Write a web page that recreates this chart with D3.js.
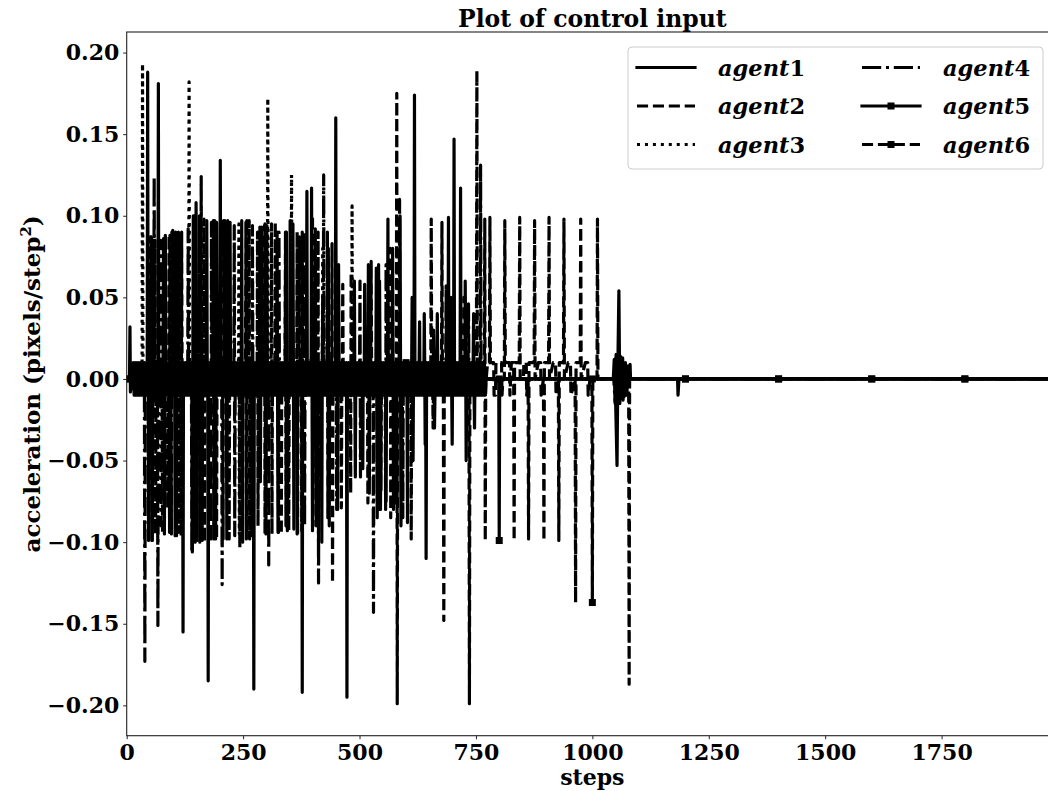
<!DOCTYPE html>
<html><head><meta charset="utf-8">
<script src="https://cdn.jsdelivr.net/npm/d3@7"></script>
<style>
body{margin:0;background:#fff}
svg{display:block}
text{font-family:"DejaVu Serif";font-weight:bold;fill:#000}
</style>
</head><body>
<svg id="chart" width="1048" height="791"></svg>
<script>
// ---------------- data ----------------
const agentNames = ["agent1","agent2","agent3","agent4","agent5","agent6"];
const xTickValues = [0,250,500,750,1000,1250,1500,1750];
const yTickValues = [-0.20,-0.15,-0.10,-0.05,0.00,0.05,0.10,0.15,0.20];
const markerEvery = 200;

// agent1: bang-bang chatter (+-0.01) in the early phase
const agent1Chatter = [
[14,.01],[16,-.01],[18,.01],[20,-.01],[22,.01],[24,-.01],[26,.01],[28,-.01],[30,.01],[32,-.01],
[34,.01],[36,-.01],[38,.01],[40,-.01],[42,.01],[44,-.01],[46,.01],[48,-.01],[50,.01],[52,-.01],
[54,.01],[56,-.01],[58,.01],[60,-.01],[62,.01],[64,-.01],[66,.01],[68,-.01],[70,.01],[72,-.01],
[74,.01],[76,-.01],[78,.01],[80,-.01],[82,.01],[84,-.01],[86,.01],[88,-.01],[90,.01],[92,-.01],
[94,.01],[96,-.01],[98,.01],[100,-.01],[102,.01],[104,-.01],[106,.01],[108,-.01],[110,.01],[112,-.01],
[114,.01],[116,-.01],[118,.01],[120,-.01],[122,.01],[124,-.01],[126,.01],[128,-.01],[130,.01],[132,-.01],
[134,.01],[136,-.01],[138,.01],[140,-.01],[142,.01],[144,-.01],[146,.01],[148,-.01],[150,.01],[152,-.01],
[154,.01],[156,-.01],[158,.01],[160,-.01],[162,.01],[164,-.01],[166,.01],[168,-.01],[170,.01],[172,-.01],
[174,.01],[176,-.01],[178,.01],[180,-.01],[182,.01],[184,-.01],[186,.01],[188,-.01],[190,.01],[192,-.01],
[194,.01],[196,-.01],[198,.01],[200,-.01],[202,.01],[204,-.01],[206,.01],[208,-.01],[210,.01],[212,-.01],
[214,.01],[216,-.01],[218,.01],[220,-.01],[222,.01],[224,-.01],[226,.01],[228,-.01],[230,.01],[232,-.01],
[234,.01],[236,-.01],[238,.01],[240,-.01],[242,.01],[244,-.01],[246,.01],[248,-.01],[250,.01],[252,-.01],
[254,.01],[256,-.01],[258,.01],[260,-.01],[262,.01],[264,-.01],[266,.01],[268,-.01],[270,.01],[272,-.01],
[274,.01],[276,-.01],[278,.01],[280,-.01],[282,.01],[284,-.01],[286,.01],[288,-.01],[290,.01],[292,-.01],
[294,.01],[296,-.01],[298,.01],[300,-.01],[302,.01],[304,-.01],[306,.01],[308,-.01],[310,.01],[312,-.01],
[314,.01],[316,-.01],[318,.01],[320,-.01],[322,.01],[324,-.01],[326,.01],[328,-.01],[330,.01],[332,-.01],
[334,.01],[336,-.01],[338,.01],[340,-.01],[342,.01],[344,-.01],[346,.01],[348,-.01],[350,.01],[352,-.01],
[354,.01],[356,-.01],[358,.01],[360,-.01],[362,.01],[364,-.01],[366,.01],[368,-.01],[370,.01],[372,-.01],
[374,.01],[376,-.01],[378,.01],[380,-.01],[382,.01],[384,-.01],[386,.01],[388,-.01],[390,.01],[392,-.01],
[394,.01],[396,-.01]];
const agent1Points = [[0,0],[6,0],[7,0.032],[8,-0.008],[10,0.004],[12,-0.006],
[45,0.188],[47,-0.099],[53,0.087],[55,-0.099],[57,0.085],[79,0.086],[81,-0.095],[83,0.088],
[105,0.09],[107,-0.096],[109,0.089],[121,-0.155],[141,-0.106],[143,0.1],[149,0.108],[151,-0.099],
[175,-0.185],[189,0.097],[191,-0.098],[193,0.096],[201,0.134],[213,0.096],[215,-0.098],[217,0.097],
[247,0.097],[249,-0.1],[273,-0.19],[297,0.095],[299,-0.095],[301,0.094],[323,0.09],[325,-0.094],
[343,0.09],[345,-0.093],[357,0.095],[359,-0.092],[377,-0.192],[387,0.115],
[398,0],[448,0],[449,0.16],[450,0],[472,0],[473,-0.195],[474,0],[535,0],[536,0.068],[537,0],[538,-0.085],[539,0],
[576,0],[577,-0.076],[578,0],[617,0],[618,0.174],[619,0],[642,0],[643,-0.11],[644,0],[690,0],[691,0.099],[692,0],
[702,0],[703,0.147],[704,0],[1048,0],[1050,-0.014],[1053,-0.053],[1055,0.012],[1057,0.054],[1059,-0.015],[1061,0.013],
[1064,0],[1183,0],[1184,-0.01],[1186,0],[2000,0]];

const agent2Points = [[0,0],[50,0],[51,0.087],[52,0],[53,0],[54,-0.099],[55,0],[87,0],[88,-0.079],[89,0],
[90,0],[91,0.088],[92,-0.094],[93,0.088],[94,0],[113,0],[114,0.089],[115,0],[116,0],[117,-0.096],[118,0.09],[119,0],
[155,0],[156,0.1],[157,-0.1],[158,0],[159,0],[160,0.124],[161,0],[192,0],[193,-0.098],[194,0],[210,0],[211,0.097],[212,0],
[218,0],[219,0.096],[220,-0.098],[221,0],[262,0],[263,0.097],[264,-0.098],[265,0],[280,0],[281,0.09],[282,-0.09],[283,0],
[310,0],[311,0.095],[312,-0.095],[313,0],[340,0],[341,0.061],[342,0],[347,0],[348,-0.093],[349,0],
[365,0],[366,0.09],[367,-0.095],[368,0],[398,0],[399,0.1],[400,-0.09],[401,0],[430,0],[431,0.09],[432,-0.085],[433,0],
[460,0],[461,-0.079],[462,0],[463,0],[464,0.058],[465,0],[545,0],[546,-0.068],[547,0],[565,0],[566,0.08],[567,-0.085],[568,0],
[579,0],[580,0.175],[581,-0.199],[582,0],[653,0],[654,0.098],[655,0],[657,0],[658,-0.03],[659,0],
[680,0],[681,-0.148],[682,0],[751,0],[752,0.189],[753,0],[772,0],[775,0.01],[779,0.01],[780,0.099],[781,0.01],[788,0.01],
[789,-0.01],[792,-0.01],[793,0.01],[805,0.01],[806,-0.01],[808,0],[811,0],[812,0.097],[813,0.01],[822,0.01],[823,-0.01],
[826,0.01],[831,0.01],[832,-0.099],[833,0.01],[843,0.01],[844,0.099],[845,0],[852,0],[853,0.01],[858,0.01],[859,-0.01],
[862,0],[863,-0.098],[864,0.01],[875,0.01],[876,0.097],[877,0],[884,0.01],[889,0.01],[890,-0.01],[895,0],[896,-0.099],
[897,0.01],[906,0.01],[907,0.099],[908,0],[916,0.01],[921,0.01],[922,-0.01],[927,0],[928,-0.099],[929,0.01],[938,0.01],
[939,0.098],[940,0],[948,0.01],[953,0.01],[954,-0.01],[963,0],[964,-0.137],[965,0.01],[974,0.01],[975,0.098],[976,0],
[985,0.01],[990,0.01],[991,-0.01],[995,0],[1010,0],[1011,0.098],[1012,0],[1040,0],[1078,0],[1079,-0.187],[1080,0],[2000,0]];

const agent3Points = [[0,0],[33,0],[34,0.193],[35,0],[133,0],[134,0.182],[135,0],[240,0],[241,0.095],[242,-0.095],[243,0],
[302,0],[303,0.172],[304,0],[353,0],[354,0.125],[355,0],[420,0],[421,0.08],[422,0],[483,0],[484,0.106],[485,0],[2000,0]];

const agent4Points = [[0,0],[38,0],[39,-0.173],[40,0],[58,0],[59,0.124],[60,0],[66,0],[67,-0.151],[68,0],
[72,0],[73,0.085],[74,-0.09],[75,0],[95,0],[96,-0.095],[97,0.09],[98,0],[131,0],[132,0.092],[133,0],[139,0],[140,-0.106],[141,0],
[145,0],[146,0.1],[147,-0.1],[148,0],[180,0],[181,-0.098],[182,0.096],[183,0],[204,0],[205,-0.126],[206,0],
[230,0],[231,0.094],[232,-0.096],[233,0],[257,0],[258,0.097],[259,0],[268,0],[269,-0.096],[270,0.094],[271,0],
[304,0],[305,-0.114],[306,0],[325,0],[326,-0.094],[327,0.09],[328,0],[370,0],[371,0.087],[372,0],[380,0],[381,0.09],[382,-0.09],[383,0],
[411,0],[412,-0.125],[413,0],[422,0],[423,0.125],[424,0],[450,0],[451,-0.08],[452,0.07],[453,0],[500,0],[501,0.06],[502,-0.06],[503,0],
[529,0],[530,-0.143],[531,0],[555,0],[556,-0.08],[557,0.07],[558,0],[585,0],[586,0.11],[587,0],[592,0],[593,-0.085],[594,0],
[685,0],[686,0.057],[687,0],[733,0],[734,0.046],[735,0],[759,0],[760,0.131],[761,0],[1046,0],[1049,-0.015],[1052,0.014],
[1055,-0.013],[1058,-0.015],[1063,0.012],[1066,-0.013],[1070,-0.012],[1075,0],[1080,0],[1081,0.009],[1082,0],[2000,0]];

// agent5: chatter in the middle phase
const agent5Chatter = [
[396,.01],[398,-.01],[400,.01],[402,-.01],[404,.01],[406,-.01],[408,.01],[410,-.01],[412,.01],[414,-.01],
[416,.01],[418,-.01],[420,.01],[422,-.01],[424,.01],[426,-.01],[428,.01],[430,-.01],[432,.01],[434,-.01],
[436,.01],[438,-.01],[440,.01],[442,-.01],[444,.01],[446,-.01],[448,.01],[450,-.01],[452,.01],[454,-.01],
[456,.01],[458,-.01],[460,.01],[462,-.01],[464,.01],[466,-.01],[468,.01],[470,-.01],[472,.01],[474,-.01],
[476,.01],[478,-.01],[480,.01],[482,-.01],[484,.01],[486,-.01],[488,.01],[490,-.01],[492,.01],[494,-.01],
[496,.01],[498,-.01],[500,.01],[502,-.01],[504,.01],[506,-.01],[508,.01],[510,-.01],[512,.01],[514,-.01],
[516,.01],[518,-.01],[520,.01],[522,-.01],[524,.01],[526,-.01],[528,.01],[530,-.01],[532,.01],[534,-.01],
[536,.01],[538,-.01],[540,.01],[542,-.01],[544,.01],[546,-.01],[548,.01],[550,-.01],[552,.01],[554,-.01],
[556,.01],[558,-.01],[560,.01],[562,-.01],[564,.01],[566,-.01],[568,.01],[570,-.01],[572,.01],[574,-.01],
[576,.01],[578,-.01],[580,.01],[582,-.01],[584,.01],[586,-.01],[588,.01],[590,-.01],[592,.01],[594,-.01],
[596,.01],[598,-.01],[600,.01],[602,-.01],[604,.01],[606,-.01],[608,.01],[610,-.01],[612,.01],[614,-.01],
[616,.01],[618,-.01],[620,.01],[622,-.01],[624,.01],[626,-.01],[628,.01],[630,-.01],[632,.01],[634,-.01],
[636,.01],[638,-.01],[640,.01],[642,-.01],[644,.01],[646,-.01],[648,.01],[650,-.01],[652,.01],[654,-.01],
[656,.01],[658,-.01],[660,.01],[662,-.01],[664,.01],[666,-.01],[668,.01],[670,-.01],[672,.01],[674,-.01],
[676,.01],[678,-.01],[680,.01],[682,-.01],[684,.01],[686,-.01],[688,.01],[690,-.01],[692,.01],[694,-.01],
[696,.01],[698,-.01],[700,.01],[702,-.01],[704,.01],[706,-.01],[708,.01],[710,-.01],[712,.01],[714,-.01],
[716,.01],[718,-.01],[720,.01],[722,-.01],[724,.01],[726,-.01],[728,.01],[730,-.01],[732,.01],[734,-.01],
[736,.01],[738,-.01],[740,.01],[742,-.01],[744,.01],[746,-.01],[748,.01],[750,-.01],[752,.01],[754,-.01],
[756,.01],[758,-.01],[760,.01],[762,-.01],[764,.01],[766,-.01],[768,.01],[770,-.01]];
const agent5Points = [[0,0],[67,0],[68,0.181],[69,0],[98,0],[99,0.091],[103,0],[104,-0.096],[105,0],[161,0],[162,-0.099],[163,0],
[171,0],[172,0.097],[173,0],[200,0],[221,0],[222,0.096],[223,0],[285,0],[286,0.093],[287,-0.063],[288,0],[289,0],[290,0.093],
[291,0],[350,0],[351,0.097],[352,0],[365,0],[366,-0.095],[367,0],[390,0],
[397,0.117],[399,-0.093],[405,0.092],[407,-0.09],[419,-0.1],[421,0.05],[433,0.08],[435,-0.09],[453,-0.08],[455,0.07],
[489,0.06],[491,-0.06],[507,-0.055],[511,0.058],[519,0.07],[521,-0.07],[543,0.06],[545,-0.08],[557,-0.075],[561,0.098],
[571,0.08],[573,-0.08],[587,0.1],[589,-0.09],[603,-0.088],[613,0.05],[615,-0.05],[629,0.035],[639,0.04],[641,-0.04],
[659,0.03],[661,-0.03],[667,0.04],[697,0.05],[699,-0.04],[717,0.117],[727,0.06],[729,-0.05],[745,0.04],[747,-0.03],
[772,0],[799,0],[800,-0.099],[801,0],[1000,0],
[1045,0],[1047,0.012],[1049,-0.014],[1051,0.015],[1053,-0.013],[1055,0.014],[1057,-0.015],[1060,0.014],[1062,-0.012],
[1065,0.013],[1068,-0.011],[1071,0.01],[1074,-0.01],[1077,0.008],[1080,0],[1200,0],[1400,0],[1600,0],[1800,0],[2000,0]];

const agent6Points = [[0,0],[60,0],[61,0.085],[62,-0.095],[63,0],[76,0],[77,-0.095],[78,0],[81,0],[82,0.086],[83,0],
[110,0],[111,0.09],[112,-0.094],[113,0],[165,0],[166,0.098],[167,-0.1],[168,0],[185,0],[186,0.097],[187,-0.098],[188,0],[200,0],
[206,0],[207,-0.098],[208,0.097],[209,0],[242,0],[243,-0.104],[244,0],[255,0],[256,0.096],[257,-0.098],[258,0],
[295,0],[296,0.094],[297,-0.095],[298,0],[318,0],[319,0.096],[320,0],[331,0],[332,-0.095],[333,0],
[340,0],[341,0.09],[342,-0.09],[343,0],[375,0],[376,-0.093],[377,0.09],[378,0],[400,0],[410,0],[411,0.09],[412,-0.1],[413,0],
[440,0],[441,0.083],[442,-0.125],[443,0],[480,0],[481,-0.07],[482,0.065],[483,0],[517,0],[518,-0.076],[519,0],[524,0],[525,0.072],[526,0],
[540,0],[541,0.07],[542,-0.08],[543,0],[600,0],[610,0],[611,-0.098],[612,0],
[676,0],[677,0.096],[678,0],[723,0],[724,0.05],[725,0],[735,0],[736,-0.199],[737,0],[768,0],[769,0.098],[770,-0.099],
[771,0],[800,0],[999,0],[1000,-0.137],[1001,0],[1200,0],[1400,0],[1600,0],[1800,0],[2000,0]];

// ---------------- styles ----------------
const LW = 3.2, U = 3;
const styles = {
  agent1:{dash:null, marker:false},
  agent2:{dash:[3.7*U,1.6*U], marker:false},
  agent3:{dash:[1*U,1.65*U], marker:false},
  agent4:{dash:[6.4*U,1.6*U,1*U,1.6*U], marker:false},
  agent5:{dash:null, marker:true},
  agent6:{dash:[3.7*U,1.6*U], marker:true}
};
const series = [
  {name:"agent1", pts:agent1Chatter.concat(agent1Points)},
  {name:"agent2", pts:agent2Points.slice()},
  {name:"agent3", pts:agent3Points.slice()},
  {name:"agent4", pts:agent4Points.slice()},
  {name:"agent5", pts:agent5Chatter.concat(agent5Points)},
  {name:"agent6", pts:agent6Points.slice()}
];
series.forEach(s=>s.pts.sort((a,b)=>a[0]-b[0]));

// ---------------- layout ----------------
const L=126.7, R=1058, T=32, B=735.7;
const svg = d3.select("#chart");
const x = d3.scaleLinear().domain([0,2000]).range([L,R]);
const allV = series.flatMap(s=>s.pts.map(p=>p[1]));
const [vmin,vmax] = d3.extent(allV);
const pad = (vmax-vmin)*0.05;
const y = d3.scaleLinear().domain([vmin-pad, vmax+pad]).range([B,T]);

svg.append("defs").append("clipPath").attr("id","clip")
  .append("rect").attr("x",L).attr("y",T).attr("width",R-L).attr("height",B-T);

const plot = svg.append("g").attr("clip-path","url(#clip)");
const line = d3.line().x(d=>x(d[0])).y(d=>y(d[1]));
series.forEach(s=>{
  const st = styles[s.name];
  plot.append("path").datum(s.pts).attr("d",line)
    .attr("fill","none").attr("stroke","#000").attr("stroke-width",LW)
    .attr("stroke-linejoin","round")
    .attr("stroke-linecap", st.dash ? "butt" : "square")
    .attr("stroke-dasharray", st.dash ? st.dash.join(",") : null);
  if(st.marker){
    plot.selectAll(null).data(s.pts.filter(p=>p[0]%markerEvery===0)).enter()
      .append("rect").attr("x",d=>x(d[0])-3.5).attr("y",d=>y(d[1])-3.5)
      .attr("width",7).attr("height",7).attr("fill","#000");
  }
});

// frame
svg.append("rect").attr("x",L).attr("y",T).attr("width",R-L).attr("height",B-T)
  .attr("fill","none").attr("stroke","#222").attr("stroke-width",1.1);

// axes
const xAxis = d3.axisBottom(x).tickValues(xTickValues).tickFormat(d3.format("d")).tickSize(3.5).tickPadding(5.2);
const gx = svg.append("g").attr("transform",`translate(0,${B})`).call(xAxis);
const yAxis = d3.axisLeft(y).tickValues(yTickValues).tickFormat(d3.format(".2f")).tickSize(3.5).tickPadding(3.9);
const gy = svg.append("g").attr("transform",`translate(${L},0)`).call(yAxis);
[gx,gy].forEach(g=>{
  g.select(".domain").remove();
  g.selectAll(".tick line").attr("stroke","#222").attr("stroke-width",1);
  g.selectAll(".tick text").style("font-family","DejaVu Serif").style("font-weight","bold").style("font-size","22px").attr("fill","#000");
});

// title and labels
svg.append("text").attr("x",(L+R)/2).attr("y",27).attr("text-anchor","middle")
  .style("font-size","23.5px").text("Plot of control input");
svg.append("text").attr("x",(L+R)/2).attr("y",785).attr("text-anchor","middle")
  .style("font-size","22px").text("steps");
const yl = svg.append("text").attr("transform",`translate(40,${(T+B)/2}) rotate(-90)`)
  .attr("text-anchor","middle").style("font-size","23px");
yl.append("tspan").text("acceleration (pixels/step");
yl.append("tspan").attr("dy",-9).style("font-size","15px").text("2");
yl.append("tspan").attr("dy",9).text(")");

// legend
const lg = svg.append("g");
lg.append("rect").attr("x",628).attr("y",47).attr("width",415).attr("height",122).attr("rx",4)
  .attr("fill","#fff").attr("fill-opacity",0.8).attr("stroke","#cccccc").attr("stroke-width",1);
agentNames.forEach((n,i)=>{
  const col = Math.floor(i/3), row = i%3;
  const x0 = col ? 862 : 637, yy = 67.5 + row*38.5;
  const st = styles[n];
  lg.append("line").attr("x1",x0).attr("x2",x0+58).attr("y1",yy).attr("y2",yy)
    .attr("stroke","#000").attr("stroke-width",LW)
    .attr("stroke-linecap", st.dash ? "butt" : "square")
    .attr("stroke-dasharray", st.dash ? st.dash.join(",") : null);
  if(st.marker){
    lg.append("rect").attr("x",x0+29-3.5).attr("y",yy-3.5).attr("width",7).attr("height",7).attr("fill","#000");
  }
  const t = lg.append("text").attr("x", col ? 943 : 718).attr("y", yy+8).style("font-size","22.5px");
  t.append("tspan").style("font-style","italic").text(n.replace(/\d+$/,""));
  t.append("tspan").text(n.match(/\d+$/)[0]);
});
</script>
</body></html>
